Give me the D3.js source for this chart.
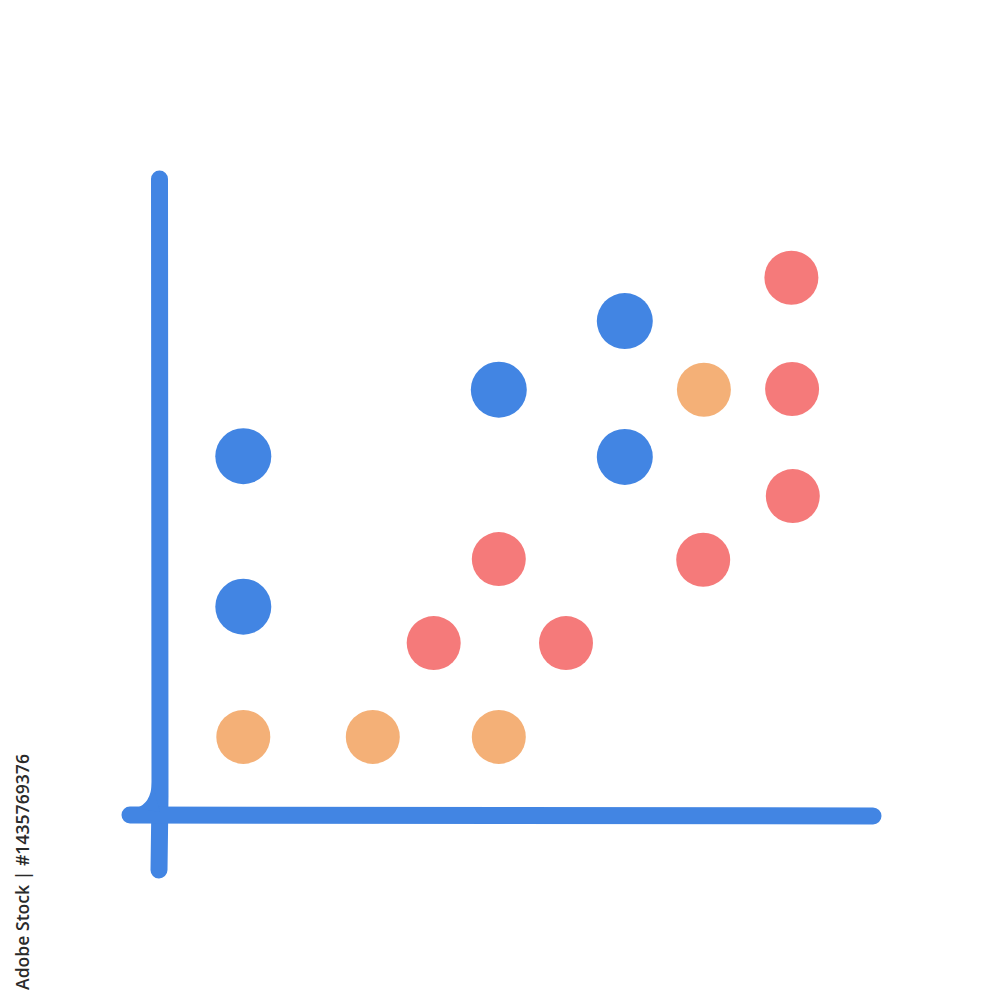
<!DOCTYPE html>
<html lang="en">
<head>
<meta charset="utf-8">
<title>Scatter icon</title>
<script src="https://cdn.jsdelivr.net/npm/d3@7/dist/d3.min.js"></script>
<style>
  body { margin: 0; background: #fff; }
</style>
</head>
<body>
<svg width="1000" height="1000" id="chart"></svg>
<script>
// point values (x, y in axis units)
var blueX = [1.19, 1.19, 4.84, 6.64, 6.64];
var blueY = [5.14, 2.99, 6.09, 7.07, 5.13];
var orangeX = [1.19, 3.04, 4.84, 7.77];
var orangeY = [1.13, 1.13, 1.13, 6.09];
var redX = [9.02, 9.03, 9.04, 4.84, 3.91, 5.80, 7.76];
var redY = [7.69, 6.10, 4.57, 3.67, 2.47, 2.47, 3.66];
var colors = { blue: "#4285e3", orange: "#f4b077", red: "#f57a7a" };

var svg = d3.select("svg#chart");

var x = d3.scaleLinear().domain([0, 10]).range([160, 860]);
var y = d3.scaleLinear().domain([0, 10]).range([816, 116]);

var axisColor = "#4285e3";

// hand drawn axes
svg.append("path")
    .attr("d", "M" + (x(0) - 1) + "," + (y(0) + 54) + " L" + x(0) + "," + (y(0) - 20) + " L" + (x(0) - 0.5) + "," + y(9.1))
    .attr("fill", "none")
    .attr("stroke", axisColor)
    .attr("stroke-width", 17)
    .attr("stroke-linecap", "round");

svg.append("path")
    .attr("d", "M" + (x(0) - 30) + "," + (y(0) - 1) + " L" + (x(10) + 13) + "," + y(0))
    .attr("fill", "none")
    .attr("stroke", axisColor)
    .attr("stroke-width", 17)
    .attr("stroke-linecap", "round");

// little fillet where the axes meet
svg.append("path")
    .attr("d", "M" + (x(0) - 8) + "," + (y(0) - 34) +
               " Q" + (x(0) - 9) + "," + (y(0) - 12) + " " + (x(0) - 24) + "," + (y(0) - 8) +
               " L" + x(0) + "," + (y(0) - 4) + " Z")
    .attr("fill", axisColor);

function drawDots(xs, ys, color, r) {
  svg.append("g").selectAll("circle")
    .data(xs.map(function(d, i) { return { x: d, y: ys[i] }; }))
    .enter().append("circle")
      .attr("cx", function(d) { return x(d.x); })
      .attr("cy", function(d) { return y(d.y); })
      .attr("r", r)
      .attr("fill", color);
}

drawDots(blueX, blueY, colors.blue, 28);
drawDots(orangeX, orangeY, colors.orange, 27);
drawDots(redX, redY, colors.red, 27);

// stock id text on the left edge
svg.append("text")
    .attr("transform", "translate(29,990) rotate(-90)")
    .attr("font-family", "Open Sans, sans-serif")
    .attr("font-size", 17.6)
    .attr("font-weight", 600)
    .attr("fill", "#2a2a2a")
    .text("Adobe Stock | #1435769376");
</script>
</body>
</html>
